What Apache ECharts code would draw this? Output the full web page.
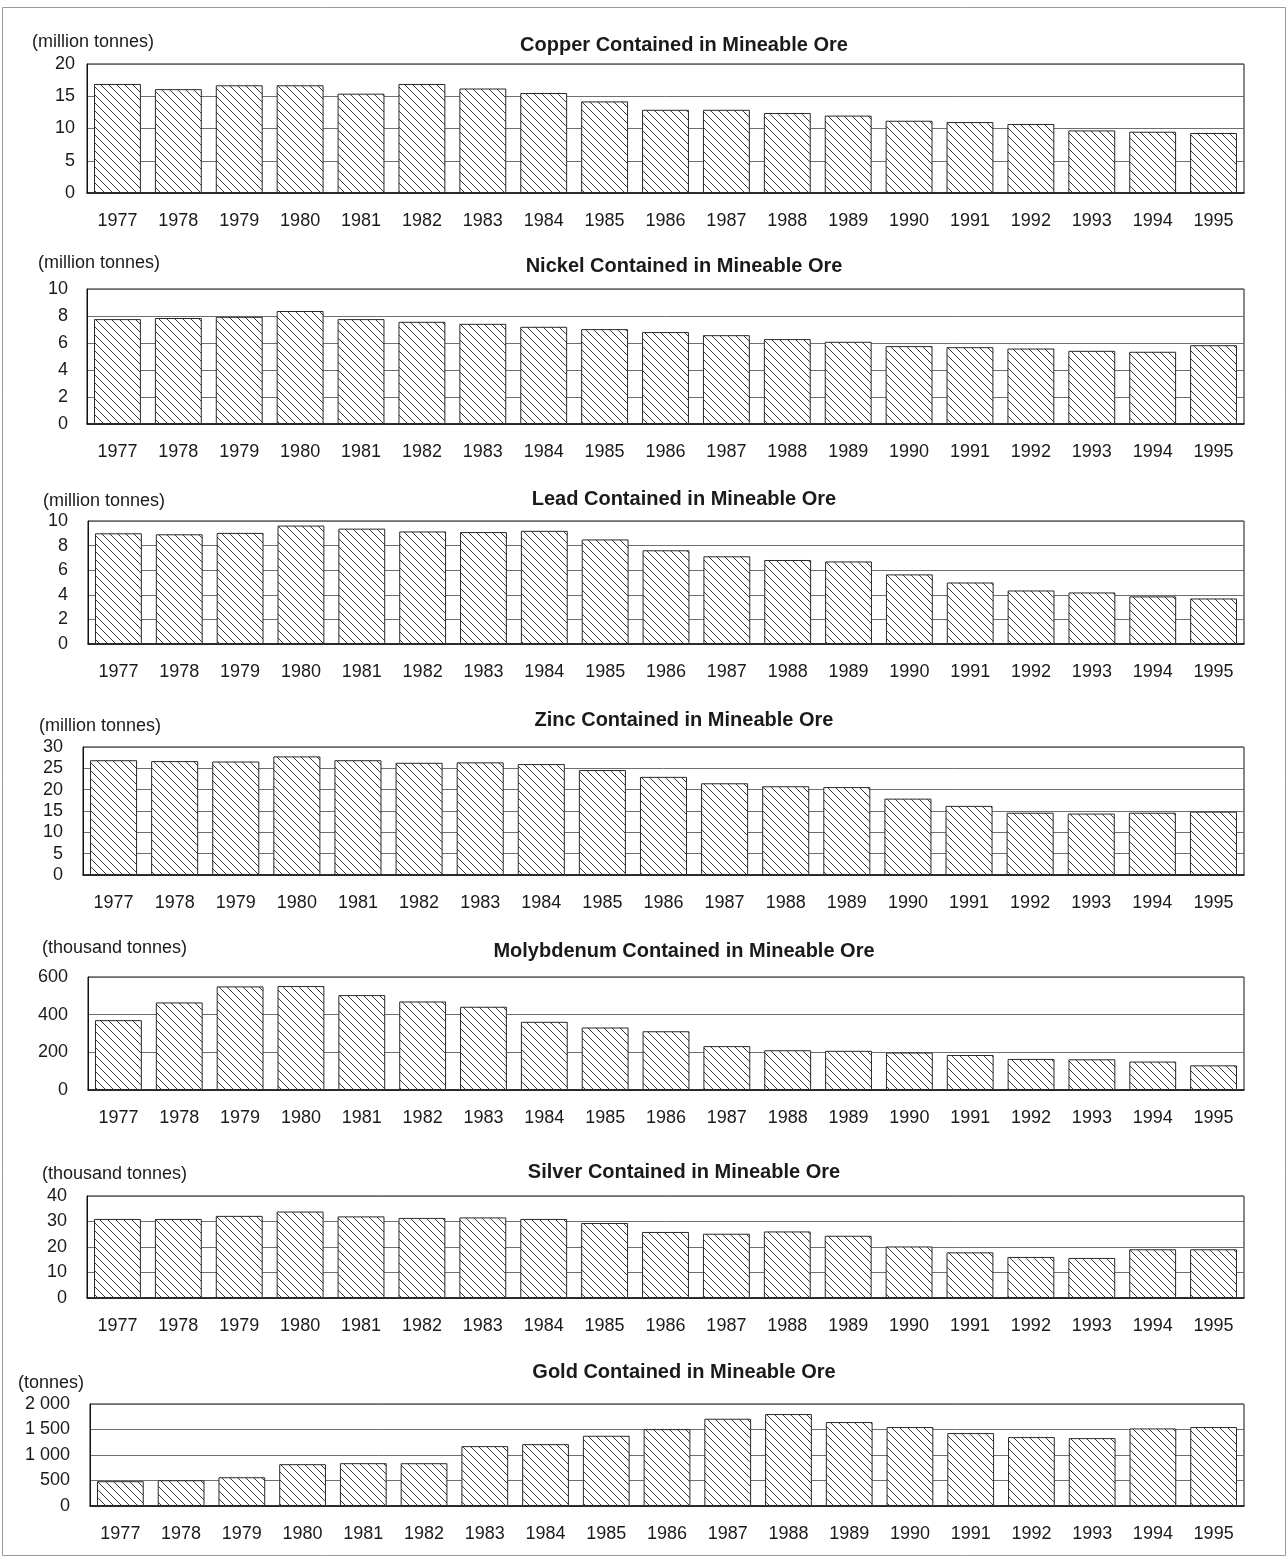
<!DOCTYPE html>
<html>
<head>
<meta charset="utf-8">
<title>Metals Contained in Mineable Ore</title>
<script src="https://cdn.jsdelivr.net/npm/echarts@6/dist/echarts.min.js"></script>
<style>
  html, body { margin: 0; padding: 0; background: #fff; }
  #chart { width: 1288px; height: 1557px; }
</style>
</head>
<body>
<div id="chart"></div>
<script>
const years = ['1977', '1978', '1979', '1980', '1981', '1982', '1983', '1984', '1985', '1986',
  '1987', '1988', '1989', '1990', '1991', '1992', '1993', '1994', '1995'];

// million tonnes
const copper = [16.9, 16.1, 16.7, 16.7, 15.4, 16.9, 16.2, 15.5, 14.2, 12.9,
  12.9, 12.4, 12.0, 11.2, 11.0, 10.7, 9.7, 9.5, 9.3];
const nickel = [7.77, 7.85, 7.94, 8.37, 7.77, 7.57, 7.42, 7.2, 7.03, 6.81,
  6.58, 6.29, 6.09, 5.77, 5.69, 5.59, 5.42, 5.35, 5.84];
const lead = [9.0, 8.92, 9.03, 9.63, 9.38, 9.15, 9.1, 9.2, 8.5, 7.62,
  7.13, 6.83, 6.71, 5.66, 5.0, 4.35, 4.19, 3.87, 3.7];
const zinc = [26.9, 26.7, 26.6, 27.8, 26.9, 26.3, 26.4, 26.0, 24.6, 23.0,
  21.5, 20.8, 20.6, 17.9, 16.2, 14.6, 14.4, 14.6, 14.85];
// thousand tonnes
const molybdenum = [371, 465, 550, 552, 504, 470, 442, 362, 332, 312,
  233, 211, 208, 199, 186, 165, 163, 151, 131];
const silver = [31.0, 31.0, 32.2, 33.9, 32.0, 31.4, 31.6, 31.0, 29.4, 25.9,
  25.2, 26.1, 24.4, 20.2, 17.9, 16.1, 15.7, 19.1, 19.1];
// tonnes
const gold = [486, 505, 564, 820, 840, 839, 1174, 1213, 1377, 1508,
  1711, 1803, 1646, 1548, 1430, 1351, 1331, 1521, 1548];

const panels = [
  { title: 'Copper Contained in Mineable Ore', unit: '(million tonnes)', data: copper, max: 20, interval: 5,
    top: 64, height: 129, left: 87, titleY: 45, unitX: 32, unitY: 42, labelMargin: 12 },
  { title: 'Nickel Contained in Mineable Ore', unit: '(million tonnes)', data: nickel, max: 10, interval: 2,
    top: 289, height: 135, left: 87, titleY: 266, unitX: 38, unitY: 263, labelMargin: 19 },
  { title: 'Lead Contained in Mineable Ore', unit: '(million tonnes)', data: lead, max: 10, interval: 2,
    top: 521, height: 123, left: 88, titleY: 499, unitX: 43, unitY: 501, labelMargin: 20 },
  { title: 'Zinc Contained in Mineable Ore', unit: '(million tonnes)', data: zinc, max: 30, interval: 5,
    top: 747, height: 128, left: 83, titleY: 720, unitX: 39, unitY: 726, labelMargin: 20 },
  { title: 'Molybdenum Contained in Mineable Ore', unit: '(thousand tonnes)', data: molybdenum, max: 600, interval: 200,
    top: 977, height: 113, left: 88, titleY: 951, unitX: 42, unitY: 948, labelMargin: 20 },
  { title: 'Silver Contained in Mineable Ore', unit: '(thousand tonnes)', data: silver, max: 40, interval: 10,
    top: 1196, height: 102, left: 87, titleY: 1172, unitX: 42, unitY: 1174, labelMargin: 20 },
  { title: 'Gold Contained in Mineable Ore', unit: '(tonnes)', data: gold, max: 2000, interval: 500,
    top: 1404, height: 102, left: 90, titleY: 1372, unitX: 18, unitY: 1383, labelMargin: 20 }
];

const FONT = '"Liberation Sans", Arial, Helvetica, sans-serif';
const RIGHT_EDGE = 1244;

// diagonal hatch fill used for every bar
const makeHatch = () => {
  const c = document.createElement('canvas');
  c.width = 8;
  c.height = 8;
  const g = c.getContext('2d');
  g.fillStyle = '#ffffff';
  g.fillRect(0, 0, 8, 8);
  g.strokeStyle = '#3a3a3a';
  g.lineWidth = 1;
  g.beginPath();
  g.moveTo(-1, -1); g.lineTo(9, 9);
  g.moveTo(7, -1); g.lineTo(9, 1);
  g.moveTo(-1, 7); g.lineTo(1, 9);
  g.stroke();
  return c;
};
const hatch = { image: makeHatch(), repeat: 'repeat' };

const spaced = (v) => String(v).replace(/\B(?=(\d{3})+(?!\d))/g, ' ');

const chart = echarts.init(document.getElementById('chart'), null, { renderer: 'canvas' });

const graphics = [
  { type: 'rect', shape: { x: 2.5, y: 7.5, width: 1283, height: 1548 }, style: { fill: 'none', stroke: '#9a9a9a', lineWidth: 1 }, silent: true }
];
panels.forEach((p) => {
  graphics.push({
    type: 'text',
    style: { text: p.title, x: 684, y: p.titleY, font: 'bold 20px ' + FONT, fill: '#1a1a1a', textAlign: 'center', textVerticalAlign: 'middle' }
  });
  graphics.push({
    type: 'text',
    style: { text: p.unit, x: p.unitX, y: p.unitY, font: '18px ' + FONT, fill: '#1a1a1a', textAlign: 'left', textVerticalAlign: 'middle' }
  });
});

chart.setOption({
  animation: false,
  backgroundColor: '#fff',
  textStyle: { fontFamily: FONT },
  graphic: graphics,
  grid: panels.map((p) => ({
    left: p.left,
    top: p.top,
    width: RIGHT_EDGE - p.left,
    height: p.height,
    show: true,
    borderColor: '#111',
    borderWidth: 1,
    backgroundColor: 'transparent',
    containLabel: false
  })),
  xAxis: panels.map((p, i) => ({
    type: 'category',
    gridIndex: i,
    data: years,
    axisLine: { show: true, lineStyle: { color: '#111', width: 1.5 } },
    axisTick: { show: false },
    axisLabel: { color: '#1a1a1a', fontSize: 18, lineHeight: 18, margin: 19, interval: 0 },
    splitLine: { show: false }
  })),
  yAxis: panels.map((p, i) => ({
    type: 'value',
    gridIndex: i,
    min: 0,
    max: p.max,
    interval: p.interval,
    axisLine: { show: true, lineStyle: { color: '#111', width: 1 } },
    axisTick: { show: false },
    axisLabel: {
      color: '#1a1a1a',
      fontSize: 18,
      margin: p.labelMargin,
      formatter: (v) => spaced(v)
    },
    splitLine: { show: true, lineStyle: { color: '#6e6e6e', width: 1 } }
  })),
  series: panels.map((p, i) => ({
    type: 'bar',
    name: p.title,
    xAxisIndex: i,
    yAxisIndex: i,
    data: p.data,
    barCategoryGap: '23%',
    itemStyle: { color: hatch, borderColor: '#2a2a2a', borderWidth: 1 },
    emphasis: { disabled: true }
  }))
});
</script>
</body>
</html>
